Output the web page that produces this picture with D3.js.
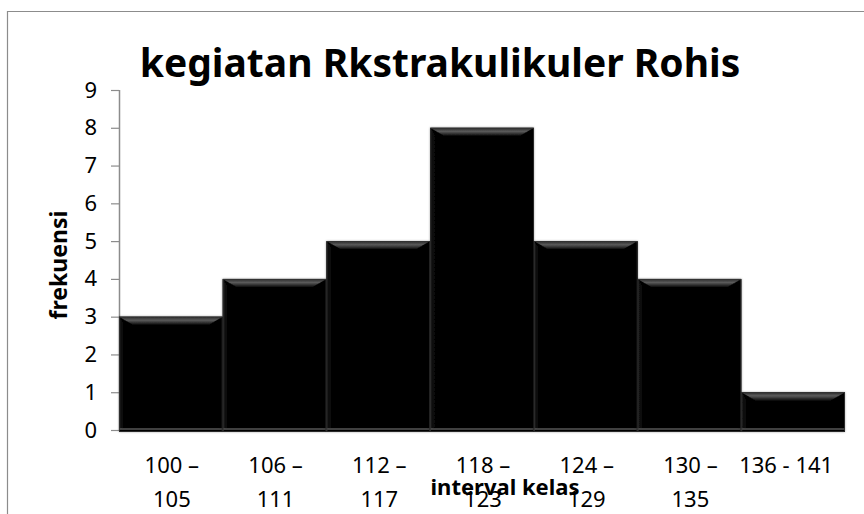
<!DOCTYPE html>
<html>
<head>
<meta charset="utf-8">
<script src="https://cdn.jsdelivr.net/npm/d3@7"></script>
<style>
  html, body { margin: 0; padding: 0; background: #fff; }
  svg { display: block; }
  text { font-family: "Noto Sans", "Open Sans", sans-serif; fill: #000; }
</style>
</head>
<body>
<svg id="chart" width="864" height="514"></svg>
<script>
const title = "kegiatan Rkstrakulikuler Rohis";
const xTitle = "interval kelas";
const yTitle = "frekuensi";
const categories = ["100 –\n105", "106 –\n111", "112 –\n117", "118 –\n123", "124 –\n129", "130 –\n135", "136 - 141"];
const frequencies = [3, 4, 5, 8, 5, 4, 1];
const yTicks = [0, 1, 2, 3, 4, 5, 6, 7, 8, 9];

const svg = d3.select("#chart");
const W = 864, H = 514;
const plot = { left: 119, right: 845, top: 90, bottom: 430 };

// outer frame (extends beyond the window on right and bottom)
svg.append("path")
  .attr("d", `M7.5,${H} L7.5,11.5 L${W},11.5`)
  .attr("fill", "none").attr("stroke", "#8c8c8c").attr("stroke-width", 1.2);

const x = d3.scaleBand().domain(categories).range([plot.left, plot.right]).padding(0);
const y = d3.scaleLinear().domain([0, 9]).range([plot.bottom, plot.top]);

const defs = svg.append("defs");
const bevelGrad = defs.append("linearGradient").attr("id", "bevelTop")
  .attr("x1", 0).attr("y1", 0).attr("x2", 0).attr("y2", 1);
bevelGrad.append("stop").attr("offset", "0%").attr("stop-color", "#2a2a2a");
bevelGrad.append("stop").attr("offset", "45%").attr("stop-color", "#5a5a5a");
bevelGrad.append("stop").attr("offset", "100%").attr("stop-color", "#0e0e0e");
const sideGrad = defs.append("linearGradient").attr("id", "bevelSide")
  .attr("x1", 0).attr("y1", 0).attr("x2", 1).attr("y2", 0);
sideGrad.append("stop").attr("offset", "0%").attr("stop-color", "#1a1a1a");
sideGrad.append("stop").attr("offset", "100%").attr("stop-color", "#040404");
const sideGradR = defs.append("linearGradient").attr("id", "bevelSideR")
  .attr("x1", 0).attr("y1", 0).attr("x2", 1).attr("y2", 0);
sideGradR.append("stop").attr("offset", "0%").attr("stop-color", "#040404");
sideGradR.append("stop").attr("offset", "100%").attr("stop-color", "#000");
const shadow = defs.append("filter").attr("id", "shadow").attr("x", "-10%").attr("y", "-10%").attr("width", "120%").attr("height", "120%");
shadow.append("feGaussianBlur").attr("in", "SourceAlpha").attr("stdDeviation", 1.2).attr("result", "b");
shadow.append("feComponentTransfer").attr("in", "b").attr("result", "s")
  .append("feFuncA").attr("type", "linear").attr("slope", 0.35);
const m = shadow.append("feMerge");
m.append("feMergeNode").attr("in", "s");
m.append("feMergeNode").attr("in", "SourceGraphic");

// y axis
const yAxis = svg.append("g").attr("transform", `translate(${plot.left},0)`)
  .call(d3.axisLeft(y).tickValues(yTicks).tickSize(8).tickPadding(14).tickFormat(d3.format("d")));
yAxis.select(".domain").attr("stroke", "#8c8c8c").attr("stroke-width", 1.5).attr("d", `M0.5,${plot.top}V${plot.bottom}`);
yAxis.selectAll(".tick line").attr("stroke", "#8c8c8c").attr("stroke-width", 1.2);
yAxis.selectAll(".tick text").attr("font-size", 22).attr("font-family", "Noto Sans").attr("fill", "#000");

// bars
const bevel = 8;
const bars = svg.append("g").selectAll("g.bar").data(frequencies).join("g").attr("class", "bar")
  .attr("filter", "url(#shadow)");
bars.each(function (d, i) {
  const g = d3.select(this);
  const x0 = x(categories[i]), w = x.bandwidth();
  const y0 = y(d), y1 = y(0);
  g.append("rect").attr("x", x0).attr("y", y0).attr("width", w).attr("height", y1 - y0 + 2)
    .attr("fill", "#050505");
  g.append("path").attr("d", `M${x0},${y0} L${x0 + 5},${y0 + bevel} L${x0 + 5},${y1 - 2} L${x0},${y1} Z`)
    .attr("fill", "url(#bevelSide)");
  g.append("path").attr("d", `M${x0 + w},${y0} L${x0 + w - 5},${y0 + bevel} L${x0 + w - 5},${y1 - 2} L${x0 + w},${y1} Z`)
    .attr("fill", "url(#bevelSideR)");
  g.append("path").attr("d", `M${x0},${y0} L${x0 + w},${y0} L${x0 + w - 14},${y0 + bevel} L${x0 + 14},${y0 + bevel} Z`)
    .attr("fill", "url(#bevelTop)");
  g.append("line").attr("x1", x0).attr("x2", x0 + w).attr("y1", y1 - 1).attr("y2", y1 - 1)
    .attr("stroke", "#7a7a7a").attr("stroke-width", 1.2);
  g.append("rect").attr("x", x0 + 0.5).attr("y", y0 + 0.5).attr("width", w - 1).attr("height", y1 - y0 + 1)
    .attr("fill", "none").attr("stroke", "#333").attr("stroke-width", 0.8);
});

// x category labels
const xl = svg.append("g");
categories.forEach(c => {
  const lines = c.split("\n");
  const cx = x(c) + x.bandwidth() / 2 + (lines.length === 1 ? -7 : 1);
  const t = xl.append("text").attr("x", cx).attr("y", 473).attr("text-anchor", "middle")
    .attr("font-size", 22);
  lines.forEach((ln, k) => {
    t.append("tspan").attr("x", cx).attr("dy", k === 0 ? 0 : 34).text(ln);
  });
});

// title
svg.append("text").attr("x", 440).attr("y", 77).attr("text-anchor", "middle")
  .attr("font-size", 39).attr("font-weight", "bold").text(title);

// axis titles
svg.append("text").attr("x", 505).attr("y", 495).attr("text-anchor", "middle")
  .attr("font-size", 22).attr("font-weight", "bold").text(xTitle);
svg.append("text").attr("transform", "translate(67,265) rotate(-90)").attr("text-anchor", "middle")
  .attr("font-size", 23).attr("font-weight", "bold").text(yTitle);
</script>
</body>
</html>
